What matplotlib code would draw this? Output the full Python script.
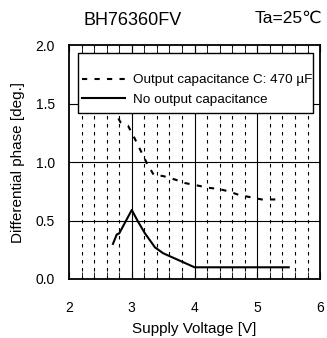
import numpy as np
import matplotlib
matplotlib.use('Agg')
import matplotlib.pyplot as plt
from matplotlib.ticker import MultipleLocator
from matplotlib.patches import Rectangle

plt.rcParams['font.family'] = ['Liberation Sans', 'DejaVu Sans']

# %%
# data
v_cap = [2.70, 2.76, 2.82, 2.94, 3.02, 3.24, 3.35, 3.50, 3.69, 3.85,
         4.04, 4.22, 4.38, 4.54, 4.70, 4.88, 5.07, 5.24, 5.41]
ph_cap = [1.58, 1.40, 1.34, 1.31, 1.23, 0.99, 0.89, 0.88, 0.85, 0.82,
          0.80, 0.78, 0.77, 0.75, 0.72, 0.70, 0.68, 0.68, 0.68]

v_nocap = [2.70, 2.76, 2.80, 2.89, 3.00, 3.10, 3.21, 3.37, 3.50, 4.00, 4.50, 5.00, 5.50]
ph_nocap = [0.30, 0.38, 0.39, 0.48, 0.59, 0.49, 0.39, 0.27, 0.22, 0.10, 0.10, 0.10, 0.10]

x_ticks = [2, 3, 4, 5, 6]
y_ticks = [0.0, 0.5, 1.0, 1.5, 2.0]

# %%
fig = plt.figure(figsize=(3.27, 3.38), dpi=100)
ax = fig.add_axes([0.211, 0.1746, 0.768, 0.692])

# minor dashed verticals every 0.2 V
for xm in np.arange(2.2, 6.0, 0.2):
    if abs(xm - round(xm)) > 0.01:
        ax.axvline(xm, color='black', lw=0.8, linestyle=(0, (3.2, 4.0)), zorder=1)
for xg in x_ticks[1:-1]:
    ax.axvline(xg, color='black', lw=0.8, zorder=1)
for yg in y_ticks[1:-1]:
    ax.axhline(yg, color='black', lw=0.8, zorder=1)

ax.plot(v_cap, ph_cap, color='black', lw=1.5, linestyle=(0, (2.5, 3.5)),
        label='Output capacitance C: 470 µF', zorder=3)
ax.plot(v_nocap, ph_nocap, color='black', lw=1.5,
        label='No output capacitance', zorder=3)

ax.set_xlim(2, 6)
ax.set_ylim(0, 2.0)
ax.set_xticks(x_ticks)
ax.set_yticks(y_ticks)
ax.set_yticklabels(['%.1f' % y for y in y_ticks])
ax.xaxis.set_minor_locator(MultipleLocator(0.2))
ax.tick_params(axis='both', which='both', direction='in', top=True, right=False,
               labelsize=10)
ax.tick_params(axis='x', which='major', length=5, pad=16)
ax.tick_params(axis='x', which='minor', length=5)
ax.tick_params(axis='y', which='major', length=0, pad=10)
for s in ax.spines.values():
    s.set_linewidth(1.3)

ax.set_xlabel('Supply Voltage [V]', fontsize=11, labelpad=5)
ax.set_ylabel('Differential phase [deg.]', fontsize=11, labelpad=8)

# legend box drawn separately (tight sides, roomy top/bottom)
box = Rectangle((0.036, 0.709), 0.936, 0.257, transform=ax.transAxes,
                facecolor='white', edgecolor='black', lw=1.0, zorder=4)
ax.add_patch(box)
leg = ax.legend(loc='upper left', bbox_to_anchor=(0.025, 0.905), fontsize=9.7,
                frameon=False, handlelength=3.2, handletextpad=0.55,
                borderpad=0.0, labelspacing=0.5)
leg.set_zorder(5)

fig.text(0.407, 0.94, 'BH76360FV', fontsize=13, ha='center', va='center')
fig.text(0.985, 0.945, 'Ta=25℃', fontsize=12.5, ha='right', va='center')

fig.savefig('out.png', dpi=100)
